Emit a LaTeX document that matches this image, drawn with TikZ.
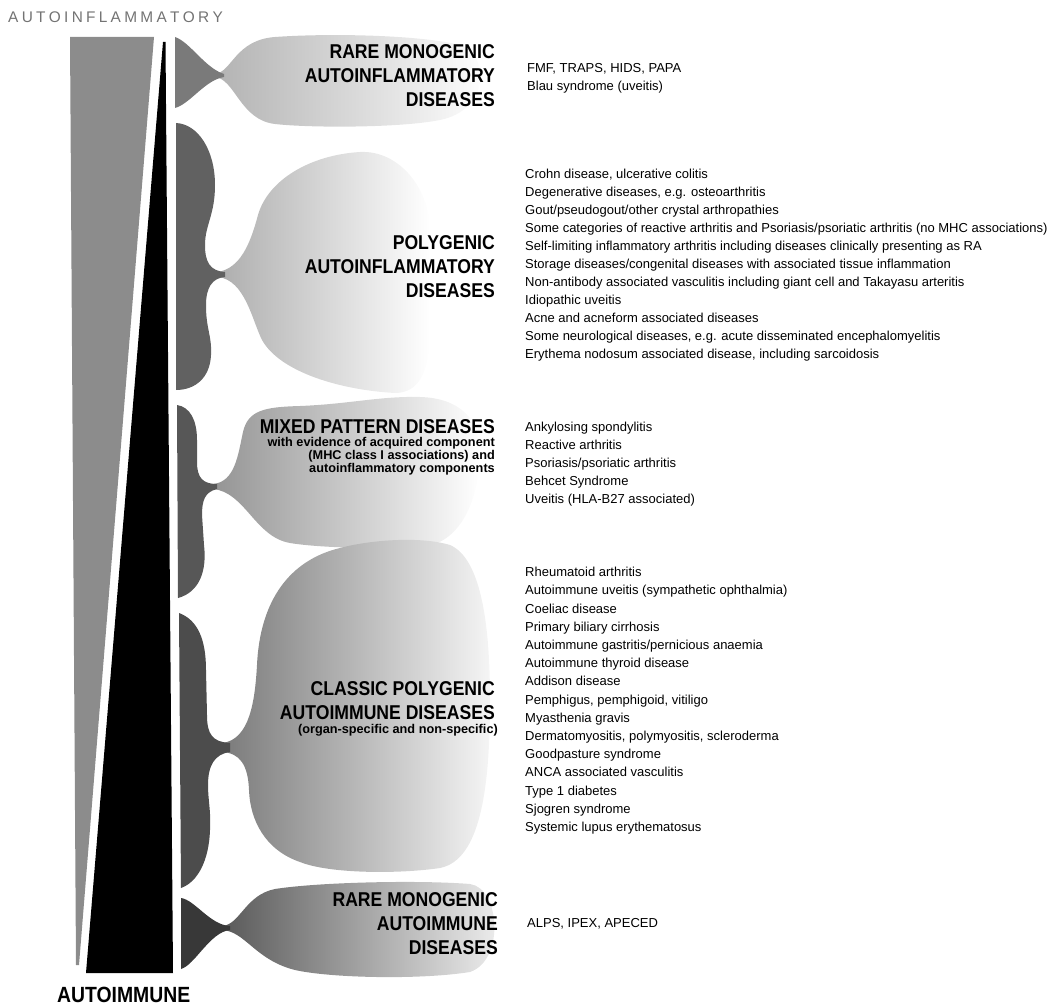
\documentclass[tikz,border=0pt]{standalone}
\usepackage{fontspec}
\setmainfont{Liberation Sans}
\newfontfamily\headfont{Liberation Sans}[FakeStretch=0.88]
\tikzset{
  head/.style={font=\headfont\bfseries\fontsize{20}{24}\selectfont, anchor=base east, inner sep=0pt},
  subhead/.style={font=\bfseries\fontsize{12.7}{13}\selectfont, anchor=base east, inner sep=0pt},
  item/.style={font=\fontsize{13}{18}\selectfont, anchor=base west, inner sep=0pt},
  axislabel/.style={inner sep=0pt, anchor=base west},
}
\begin{document}
\begin{tikzpicture}[x=1pt,y=-1pt]
\useasboundingbox (0,0) rectangle (1053,1006);
% wedges
\fill[black!45] (70,37) -- (154,37) -- (79,965) -- (76,965) -- cycle;
\fill[black] (163,42) -- (165.5,42) -- (173,973) -- (86,973) -- cycle;

% ---- bulbs (light parts) ----
\shade[left color=black!30, middle color=black!12, right color=white]
  (215,74) .. controls (232,72) and (235,40) .. (275,37)
  .. controls (330,33) and (420,35) .. (460,45)
  .. controls (490,55) and (490,110) .. (440,120)
  .. controls (400,128) and (310,128) .. (275,124)
  .. controls (240,120) and (235,79) .. (215,77) -- cycle;

\shade[left color=black!32, middle color=black!15, right color=white]
  (218,272) .. controls (240,268) and (250,245) .. (258,215)
  .. controls (268,180) and (310,155) .. (360,152)
  .. controls (400,150) and (430,190) .. (430,230)
  -- (430,330) .. controls (430,370) and (420,393) .. (395,393)
  .. controls (340,390) and (280,372) .. (262,340)
  .. controls (252,320) and (245,280) .. (218,277) -- cycle;

\shade[left color=black!42, middle color=black!22, right color=white]
  (213,484) .. controls (235,482) and (238,455) .. (243,432)
  .. controls (248,410) and (265,407) .. (300,406)
  .. controls (350,404) and (380,396) .. (420,397)
  .. controls (460,398) and (480,420) .. (480,450)
  .. controls (480,500) and (460,545) .. (420,547)
  .. controls (380,549) and (320,548) .. (290,543)
  .. controls (255,537) and (245,492) .. (213,489) -- cycle;

\shade[left color=black!52, middle color=black!30, right color=black!4]
  (222,743) .. controls (250,740) and (255,700) .. (257,665)
  .. controls (260,600) and (290,560) .. (340,548)
  .. controls (370,540) and (420,536) .. (450,545)
  .. controls (480,558) and (490,620) .. (490,700)
  .. controls (490,790) and (480,860) .. (440,868)
  .. controls (400,874) and (330,874) .. (300,862)
  .. controls (265,850) and (250,820) .. (249,790)
  .. controls (248,765) and (240,753) .. (222,752) -- cycle;

\shade[left color=black!65, middle color=black!42, right color=black!6]
  (222,926) .. controls (240,925) and (245,895) .. (275,889)
  .. controls (320,882) and (420,880) .. (470,884)
  .. controls (500,888) and (505,960) .. (470,972)
  .. controls (420,980) and (330,978) .. (295,970)
  .. controls (255,960) and (245,931) .. (222,930) -- cycle;

% ---- stems (dark parts) ----
\fill[black!52]
  (175,37) .. controls (190,42) and (205,68) .. (224,74)
  -- (224,77) .. controls (205,80) and (190,104) .. (175,108) -- cycle;

\fill[black!62]
  (176,123) .. controls (198,124) and (215,150) .. (215,185)
  .. controls (215,215) and (205,225) .. (205,245)
  .. controls (205,262) and (210,271) .. (225,272)
  -- (225,277) .. controls (212,278) and (206,288) .. (206,305)
  .. controls (206,330) and (212,335) .. (211,355)
  .. controls (210,378) and (195,390) .. (176,390) -- cycle;

\fill[black!66]
  (177,405) .. controls (190,407) and (197,420) .. (197,440)
  -- (197,462) .. controls (197,478) and (203,484) .. (217,484)
  -- (217,489) .. controls (205,492) and (202,500) .. (202,515)
  -- (204,545) .. controls (207,570) and (200,592) .. (178,598) -- cycle;

\fill[black!70]
  (179,613) .. controls (198,620) and (206,640) .. (206,670)
  -- (207,715) .. controls (207,735) and (213,742) .. (230,743)
  -- (230,752) .. controls (215,754) and (208,765) .. (208,785)
  .. controls (208,800) and (211,810) .. (210,830)
  .. controls (209,860) and (198,882) .. (181,888) -- cycle;

\fill[black!78]
  (181,898) .. controls (195,900) and (210,925) .. (230,926)
  -- (230,930) .. controls (210,932) and (195,965) .. (181,969) -- cycle;

% ---- axis labels ----
\node[axislabel, text=black!55, font=\fontsize{15.4}{16}\selectfont] (topl) at (8,23)
  {A\kern3.3pt U\kern3.3pt T\kern3.3pt O\kern3.3pt I\kern3.3pt N\kern3.3pt F\kern3.3pt L\kern3.3pt A\kern3.3pt M\kern3.3pt M\kern3.3pt A\kern3.3pt T\kern3.3pt O\kern3.3pt R\kern3.3pt Y};
\node[axislabel, font=\headfont\bfseries\fontsize{22}{24}\selectfont] (botl) at (57,1002) {AUTOIMMUNE};

% ---- headings ----
\node[head] (h1a) at (495,59) {RARE MONOGENIC};
\node[head] (h1b) at (495,83) {AUTOINFLAMMATORY};
\node[head] (h1c) at (495,107) {DISEASES};

\node[head] (h2a) at (495,249) {POLYGENIC};
\node[head] (h2b) at (495,273) {AUTOINFLAMMATORY};
\node[head] (h2c) at (495,297) {DISEASES};

\node[head] (h3a) at (495,433) {MIXED PATTERN DISEASES};
\node[subhead] (h3b) at (495,446.5) {with evidence of acquired component};
\node[subhead] (h3c) at (495,459.5) {(MHC class I associations) and};
\node[subhead] (h3d) at (495,472.5) {autoinflammatory components};

\node[head] (h4a) at (495,695) {CLASSIC POLYGENIC};
\node[head] (h4b) at (495,719) {AUTOIMMUNE DISEASES};
\node[subhead] (h4c) at (498,733.5) {(organ-specific and non-specific)};

\node[head] (h5a) at (498,906) {RARE MONOGENIC};
\node[head] (h5b) at (498,930) {AUTOIMMUNE};
\node[head] (h5c) at (498,954) {DISEASES};

% ---- lists ----
\foreach \t [count=\i] in {{FMF, TRAPS, HIDS, PAPA},{Blau syndrome (uveitis)}}
  \node[item] (ra\i) at (527,{54.6+18*\i}) {\t};

\foreach \t [count=\i] in {{Crohn disease, ulcerative colitis},
  {Degenerative diseases, e.g. osteoarthritis},
  {Gout/pseudogout/other crystal arthropathies},
  {Some categories of reactive arthritis and Psoriasis/psoriatic arthritis (no MHC associations)},
  {Self-limiting inflammatory arthritis including diseases clinically presenting as RA},
  {Storage diseases/congenital diseases with associated tissue inflammation},
  {Non-antibody associated vasculitis including giant cell and Takayasu arteritis},
  {Idiopathic uveitis},
  {Acne and acneform associated diseases},
  {Some neurological diseases, e.g. acute disseminated encephalomyelitis},
  {Erythema nodosum associated disease, including sarcoidosis}}
  \node[item] (pa\i) at (525,{160.6+18*\i}) {\t};

\foreach \t [count=\i] in {{Ankylosing spondylitis},{Reactive arthritis},
  {Psoriasis/psoriatic arthritis},{Behcet Syndrome},{Uveitis (HLA-B27 associated)}}
  \node[item] (mp\i) at (525,{413.6+18*\i}) {\t};

\foreach \t [count=\i] in {{Rheumatoid arthritis},
  {Autoimmune uveitis (sympathetic ophthalmia)},
  {Coeliac disease},{Primary biliary cirrhosis},
  {Autoimmune gastritis/pernicious anaemia},{Autoimmune thyroid disease},
  {Addison disease},{Pemphigus, pemphigoid, vitiligo},{Myasthenia gravis},
  {Dermatomyositis, polymyositis, scleroderma},{Goodpasture syndrome},
  {ANCA associated vasculitis},{Type 1 diabetes},{Sjogren syndrome},
  {Systemic lupus erythematosus}}
  \node[item] (ca\i) at (525,{558.4+18.2*\i}) {\t};

\node[item] (alps) at (527,927.6) {ALPS, IPEX, APECED};
\end{tikzpicture}
\end{document}
